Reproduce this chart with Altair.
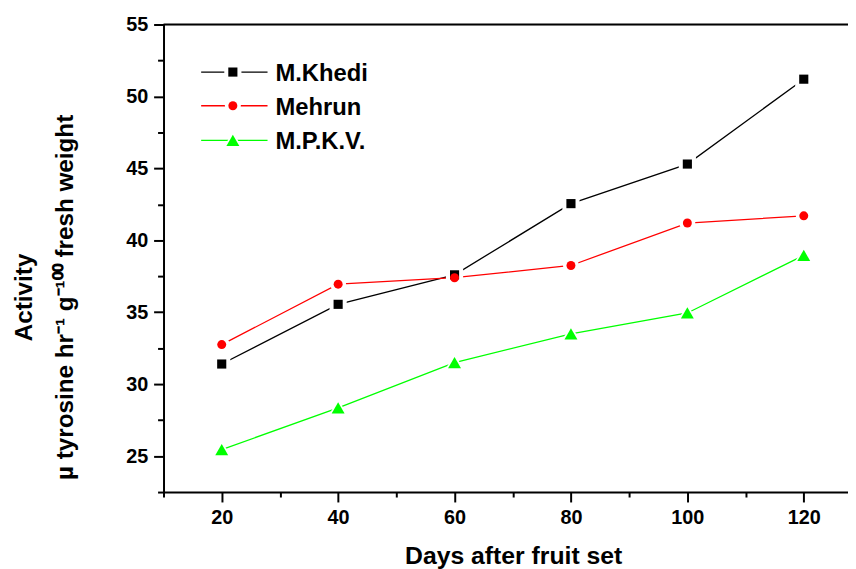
import altair as alt
import pandas as pd

days = [20, 40, 60, 80, 100, 120]
khedi = [31.4, 35.55, 37.6, 42.55, 45.3, 51.2]
mehrun = [32.75, 36.95, 37.4, 38.25, 41.2, 41.7]
mpkv = [25.45, 28.35, 31.5, 33.5, 34.95, 38.95]

series_names = ["M.Khedi", "Mehrun", "M.P.K.V."]
series_colors = ["#000000", "#ff0000", "#00ff00"]
series_shapes = ["square", "circle", "triangle-up"]
halo_sizes = [300, 260, 440]
mark_sizes = [85, 82, 170]

y_major = [25, 30, 35, 40, 45, 50, 55]
y_minor = [22.5, 27.5, 32.5, 37.5, 42.5, 47.5, 52.5]
x_major = [20, 40, 60, 80, 100, 120]
x_minor = [10, 30, 50, 70, 90, 110, 130]

rows = []
for name, vals in zip(series_names, [khedi, mehrun, mpkv]):
    for d, v in zip(days, vals):
        rows.append({"days": d, "value": v, "series": name})
df = pd.DataFrame(rows)

FONT = "Liberation Sans"
XDOM = [10, 127.6]
YDOM = [22.5, 55]

xs = alt.Scale(domain=XDOM, nice=False, zero=False)
ys = alt.Scale(domain=YDOM, nice=False, zero=False)
color_scale = alt.Scale(domain=series_names, range=series_colors)

x_axis = alt.Axis(
    values=x_major, format="d", tickSize=10, tickWidth=2, tickColor="black",
    domainWidth=2, domainColor="black", grid=False,
    labelFontSize=20, labelFontWeight="bold", labelColor="black", labelPadding=6,
    labelFont=FONT, title="Days after fruit set", titleFont=FONT,
    titleFontSize=25, titleFontWeight="bold", titleColor="black",
    titleX=353, titleY=72, titleBaseline="alphabetic", orient="bottom",
)
y_axis = alt.Axis(
    values=y_major, format="d", tickSize=10, tickWidth=2, tickColor="black",
    domainWidth=2, domainColor="black", grid=False,
    labelFontSize=20, labelFontWeight="bold", labelColor="black", labelPadding=6,
    labelFont=FONT,
    title=["Activity", "\u00b5 tyrosine  hr\u207b\u00b9  g\u207b\u00b9\u2070\u2070  fresh weight"],
    titleFont=FONT, titleFontSize=24.5, titleFontWeight="bold", titleColor="black",
    titleX=-133, titleY=275, titleBaseline="alphabetic", titleAlign="center",
    titleAngle=270, titleLineHeight=41, orient="left",
)

base = alt.Chart(df)

lines = base.mark_line(strokeWidth=1.3).encode(
    x=alt.X("days:Q", scale=xs, axis=x_axis),
    y=alt.Y("value:Q", scale=ys, axis=y_axis),
    color=alt.Color("series:N", scale=color_scale, legend=None),
    detail="series:N",
)

halo_layers = []
point_layers = []
for i, name in enumerate(series_names):
    sub = base.transform_filter(alt.datum.series == name)
    halo_layers.append(
        sub.mark_point(filled=True, opacity=1, color="white", shape=series_shapes[i],
                       size=halo_sizes[i]).encode(
            x=alt.X("days:Q", scale=xs, axis=None),
            y=alt.Y("value:Q", scale=ys, axis=None),
        )
    )
    point_layers.append(
        sub.mark_point(filled=True, opacity=1, color=series_colors[i], shape=series_shapes[i],
                       size=mark_sizes[i]).encode(
            x=alt.X("days:Q", scale=xs, axis=None),
            y=alt.Y("value:Q", scale=ys, axis=None),
        )
    )

one = pd.DataFrame({"k": [0]})

minor_layer = alt.Chart(one).mark_point(opacity=0).encode(
    x=alt.X("xv:Q", scale=xs, axis=alt.Axis(values=x_minor, labels=False, tickSize=5, tickWidth=2,
                                             tickColor="black", domain=False, grid=False, title=None,
                                             orient="bottom")),
    y=alt.Y("yv:Q", scale=ys, axis=alt.Axis(values=y_minor, labels=False, tickSize=6, tickWidth=2,
                                             tickColor="black", domain=False, grid=False, title=None,
                                             orient="left")),
).transform_calculate(xv="20", yv="30")

top_rule = alt.Chart(one).mark_rule(color="black", strokeWidth=2).encode(
    y=alt.YDatum(55, scale=ys, axis=None)
)

legend_layers = []
leg_y = [48, 82, 117]
for i, name in enumerate(series_names):
    yy = leg_y[i]
    legend_layers.append(
        alt.Chart(one).mark_rule(color=series_colors[i], strokeWidth=1.3).encode(
            x=alt.value(38), x2=alt.value(105), y=alt.value(yy)
        )
    )
    legend_layers.append(
        alt.Chart(one).mark_point(filled=True, opacity=1, color="white", shape=series_shapes[i],
                                  size=halo_sizes[i]).encode(x=alt.value(70), y=alt.value(yy))
    )
    legend_layers.append(
        alt.Chart(one).mark_point(filled=True, opacity=1, color=series_colors[i], shape=series_shapes[i],
                                  size=mark_sizes[i]).encode(x=alt.value(70), y=alt.value(yy))
    )
    legend_layers.append(
        alt.Chart(one).mark_text(align="left", baseline="alphabetic", fontSize=24, fontWeight="bold",
                                 font=FONT, color="black").encode(
            x=alt.value(113), y=alt.value(yy + 9), text=alt.value(name)
        )
    )

chart = alt.layer(
    lines, minor_layer, *halo_layers, *point_layers, top_rule, *legend_layers
).resolve_axis(
    x="independent", y="independent"
).properties(
    width=691, height=472,
    autosize=alt.AutoSizeParams(type="none"),
    padding={"left": 157, "top": 14, "right": 0, "bottom": 75},
).configure_view(stroke=None).configure(font=FONT, background="white")

chart.save("out.html", embed_options={"renderer": "svg", "actions": False})
